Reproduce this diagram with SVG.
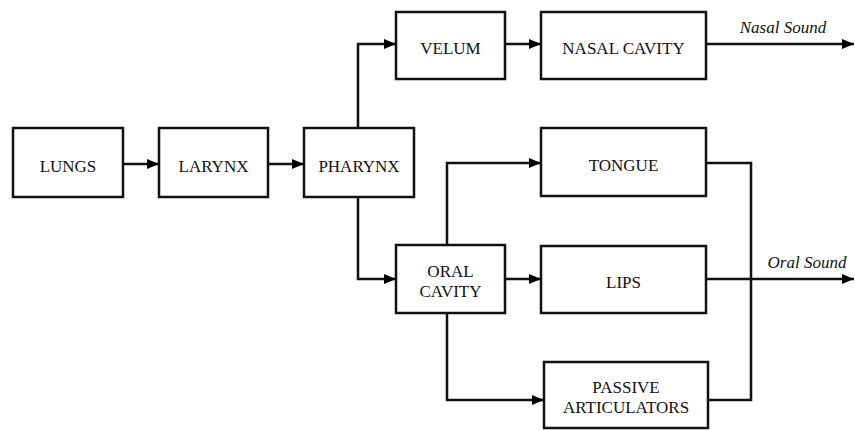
<svg xmlns="http://www.w3.org/2000/svg" width="855" height="430" viewBox="0 0 855 430">
<defs>
<marker id="ah" viewBox="0 0 12 10" refX="12" refY="5" markerWidth="12" markerHeight="10" markerUnits="userSpaceOnUse" orient="auto">
<path d="M0,0 L12,5 L0,10 Z" fill="#000"/>
</marker>
<style>
.box{fill:#fff;stroke:#111;stroke-width:2.5}
text{font-family:'Liberation Serif','Times New Roman','DejaVu Serif',serif;font-size:17px;fill:#111;text-anchor:middle}
.it{font-style:italic}
.c{fill:none;stroke:#111;stroke-width:2.5}
.a{marker-end:url(#ah)}
</style>
</defs>
<rect width="855" height="430" fill="#fff"/>
<g id="connectors">
<path class="c a" d="M123,164 H159"/>
<path class="c a" d="M268,164 H304"/>
<path class="c a" d="M358,128 V44 H396"/>
<path class="c a" d="M505,44 H541"/>
<path class="c a" d="M706,44 H854"/>
<path class="c a" d="M358,197 V279 H396"/>
<path class="c a" d="M447,245 V163 H541"/>
<path class="c a" d="M505,279 H541"/>
<path class="c a" d="M447,313 V400 H544"/>
<path class="c a" d="M706,279 H854"/>
<path class="c" d="M706,163 H751 V400 H708"/>
<text class="it" x="783" y="33" font-family="Liberation Serif, serif">Nasal Sound</text>
<text class="it" x="807" y="268" font-family="Liberation Serif, serif">Oral Sound</text>
</g>
<g id="lungs"><rect class="box" x="13" y="128" width="110" height="69"/><text x="68" y="172">LUNGS</text></g>
<g id="larynx"><rect class="box" x="159" y="128" width="109" height="69"/><text x="213.5" y="172">LARYNX</text></g>
<g id="pharynx"><rect class="box" x="304" y="128" width="110" height="69"/><text x="359" y="172">PHARYNX</text></g>
<g id="velum"><rect class="box" x="396" y="12" width="109" height="67"/><text x="450.5" y="54">VELUM</text></g>
<g id="nasal-cavity"><rect class="box" x="541" y="12" width="165" height="67"/><text x="623.5" y="54">NASAL CAVITY</text></g>
<g id="tongue"><rect class="box" x="541" y="128" width="165" height="68"/><text x="623.5" y="171">TONGUE</text></g>
<g id="oral-cavity"><rect class="box" x="396" y="245" width="109" height="68"/><text x="450.5" y="277">ORAL</text><text x="450.5" y="297">CAVITY</text></g>
<g id="lips"><rect class="box" x="541" y="246" width="165" height="67"/><text x="623.5" y="288">LIPS</text></g>
<g id="passive-articulators"><rect class="box" x="544" y="362" width="164" height="66"/><text x="626" y="393">PASSIVE</text><text x="626" y="413">ARTICULATORS</text></g>
</svg>
